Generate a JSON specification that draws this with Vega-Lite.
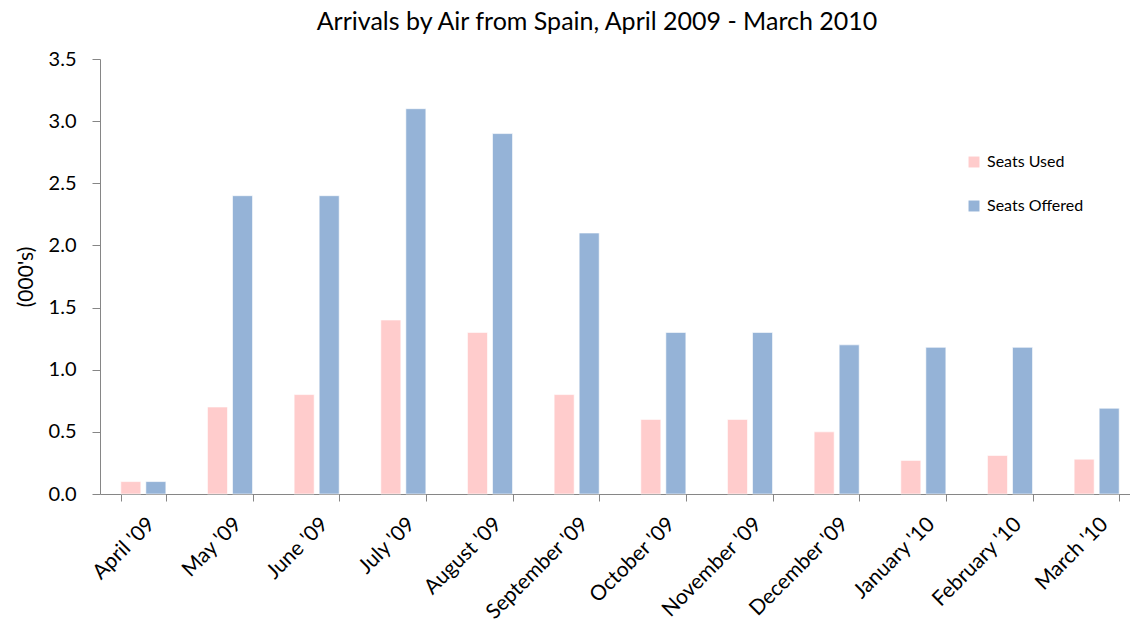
{
  "$schema": "https://vega.github.io/schema/vega-lite/v6.json",
  "width": 1040,
  "height": 435,
  "autosize": {"type": "none"},
  "padding": {"left": 100, "top": 59, "right": 0, "bottom": 135},
  "background": "white",
  "config": {
    "font": "Lato",
    "view": {"stroke": null},
    "axis": {"domainColor": "#868686", "tickColor": "#868686", "labelColor": "#000000", "titleColor": "#000000", "grid": false}
  },
  "title": {"text": "Arrivals by Air from Spain, April 2009 - March 2010", "fontSize": 25, "fontWeight": "normal", "font": "Lato", "color": "#000000", "offset": 14, "dx": -23},
  "data": {
    "values": [
      {"month": "April '09", "series": "Seats Used", "value": 0.1},
      {"month": "April '09", "series": "Seats Offered", "value": 0.1},
      {"month": "May '09", "series": "Seats Used", "value": 0.7},
      {"month": "May '09", "series": "Seats Offered", "value": 2.4},
      {"month": "June '09", "series": "Seats Used", "value": 0.8},
      {"month": "June '09", "series": "Seats Offered", "value": 2.4},
      {"month": "July '09", "series": "Seats Used", "value": 1.4},
      {"month": "July '09", "series": "Seats Offered", "value": 3.1},
      {"month": "August '09", "series": "Seats Used", "value": 1.3},
      {"month": "August '09", "series": "Seats Offered", "value": 2.9},
      {"month": "September '09", "series": "Seats Used", "value": 0.8},
      {"month": "September '09", "series": "Seats Offered", "value": 2.1},
      {"month": "October '09", "series": "Seats Used", "value": 0.6},
      {"month": "October '09", "series": "Seats Offered", "value": 1.3},
      {"month": "November '09", "series": "Seats Used", "value": 0.6},
      {"month": "November '09", "series": "Seats Offered", "value": 1.3},
      {"month": "December '09", "series": "Seats Used", "value": 0.5},
      {"month": "December '09", "series": "Seats Offered", "value": 1.2},
      {"month": "January '10", "series": "Seats Used", "value": 0.27},
      {"month": "January '10", "series": "Seats Offered", "value": 1.18},
      {"month": "February '10", "series": "Seats Used", "value": 0.31},
      {"month": "February '10", "series": "Seats Offered", "value": 1.18},
      {"month": "March '10", "series": "Seats Used", "value": 0.28},
      {"month": "March '10", "series": "Seats Offered", "value": 0.69}
    ]
  },
  "mark": {"type": "bar", "stroke": "#ffffff", "strokeOpacity": 0.6, "strokeWidth": 1},
  "encoding": {
    "x": {
      "field": "month", "type": "nominal", "sort": null,
      "scale": {"paddingInner": 0.48, "paddingOuter": 0.24},
      "axis": {"title": null, "labelAngle": -45, "labelFontSize": 21, "labelPadding": 12, "tickBand": "extent", "tickSize": 7, "labelOverlap": false}
    },
    "xOffset": {"field": "series", "type": "nominal", "sort": ["Seats Used", "Seats Offered"], "scale": {"paddingInner": 0.2}},
    "y": {
      "field": "value", "type": "quantitative",
      "scale": {"domain": [0, 3.5], "nice": false},
      "axis": {"title": "(000's)", "titleFontSize": 21, "titleFontWeight": "normal", "titlePadding": 12, "labelFontSize": 20, "format": ".1f", "values": [0, 0.5, 1, 1.5, 2, 2.5, 3, 3.5], "tickSize": 8, "labelPadding": 16}
    },
    "color": {
      "field": "series", "type": "nominal",
      "scale": {"domain": ["Seats Used", "Seats Offered"], "range": ["#FFCCCC", "#95B3D7"]},
      "legend": {"title": null, "orient": "none", "legendX": 866, "legendY": 95, "symbolType": "square", "symbolSize": 120, "symbolStrokeWidth": 0, "labelFontSize": 16, "rowPadding": 28, "labelOffset": 5}
    }
  }
}
